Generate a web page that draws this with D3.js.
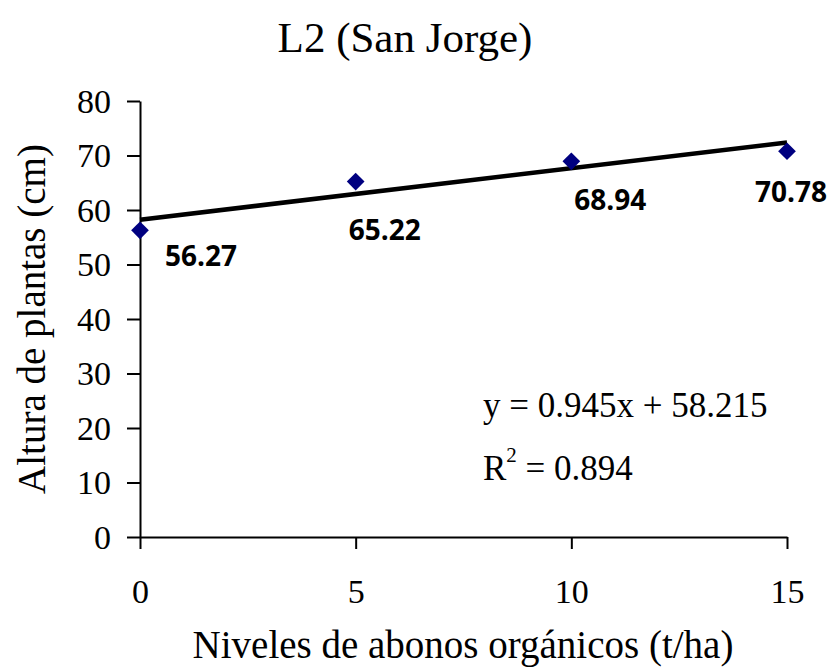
<!DOCTYPE html>
<html><head><meta charset="utf-8">
<script src="https://cdn.jsdelivr.net/npm/d3@7"></script>
<style>body{margin:0;background:#fff}</style>
</head><body>
<svg id="c" width="830" height="667"></svg>
<script>
const xValues = [0, 5, 10, 15];
const yValues = [56.27, 65.22, 68.94, 70.78];
const labels = ["56.27", "65.22", "68.94", "70.78"];
const xTicks = [0, 5, 10, 15];
const yTicks = [0, 10, 20, 30, 40, 50, 60, 70, 80];
const slope = 0.945, intercept = 58.215, r2 = 0.894;
const labelOffsets = [[61, 36], [29, 58], [39, 49], [4, 51]];

const svg = d3.select("#c");
const x = d3.scaleLinear().domain([0, 15]).range([140, 787]);
const y = d3.scaleLinear().domain([0, 80]).range([537, 101]);
const serif = "'Liberation Serif','Times New Roman',serif";

svg.append("text").attr("x", 405).attr("y", 52).attr("text-anchor", "middle")
  .style("font-family", serif).style("font-size", "43px").text("L2 (San Jorge)");

const ya = svg.append("g").attr("transform", "translate(140,0)")
  .call(d3.axisLeft(y).tickValues(yTicks).tickSize(13).tickPadding(16).tickSizeOuter(0));
const xa = svg.append("g").attr("transform", "translate(0,537)")
  .call(d3.axisBottom(x).tickValues(xTicks).tickSize(12).tickPadding(16).tickSizeOuter(0));
[ya, xa].forEach(g => {
  g.select(".domain").attr("stroke", "#000").attr("stroke-width", 2);
  g.selectAll(".tick line").attr("stroke", "#000").attr("stroke-width", 2);
  g.selectAll(".tick text").attr("fill", "#000").style("font-family", serif).style("font-size", "34px");
});
ya.selectAll(".tick text").attr("dy", "0.33em");
xa.selectAll(".tick text").attr("y", 66).attr("dy", "0");

svg.append("text").attr("transform", "translate(45,319) rotate(-90)").attr("text-anchor", "middle")
  .style("font-family", serif).style("font-size", "39px").text("Altura de plantas (cm)");
svg.append("text").attr("x", 463).attr("y", 658).attr("text-anchor", "middle")
  .style("font-family", serif).style("font-size", "39px").text("Niveles de abonos orgánicos (t/ha)");

svg.append("line")
  .attr("x1", x(0)).attr("y1", y(intercept))
  .attr("x2", x(15)).attr("y2", y(intercept + slope * 15))
  .attr("stroke", "#000").attr("stroke-width", 4.5);

const pts = xValues.map((v, i) => ({x: v, y: yValues[i], l: labels[i], o: labelOffsets[i]}));
svg.selectAll("path.pt").data(pts).enter().append("path").attr("class", "pt")
  .attr("d", d3.symbol().type(d3.symbolDiamond2).size(200))
  .attr("transform", d => `translate(${x(d.x)},${y(d.y)})`)
  .attr("fill", "#000080");

svg.selectAll("text.lbl").data(pts).enter().append("text").attr("class", "lbl")
  .attr("x", d => x(d.x) + d.o[0]).attr("y", d => y(d.y) + d.o[1]).attr("text-anchor", "middle")
  .style("font-family", "'Open Sans',sans-serif").style("font-weight", "bold").style("font-size", "28px")
  .text(d => d.l);

const eq = svg.append("g").style("font-family", serif).style("font-size", "35px");
eq.append("text").attr("x", 483).attr("y", 417).text(`y = ${slope}x + ${intercept}`);
const t2 = eq.append("text").attr("x", 483).attr("y", 480);
t2.append("tspan").text("R");
t2.append("tspan").attr("dy", -18).style("font-size", "21px").text("2");
t2.append("tspan").attr("dy", 18).text(` = ${r2}`);
</script>
</body></html>
